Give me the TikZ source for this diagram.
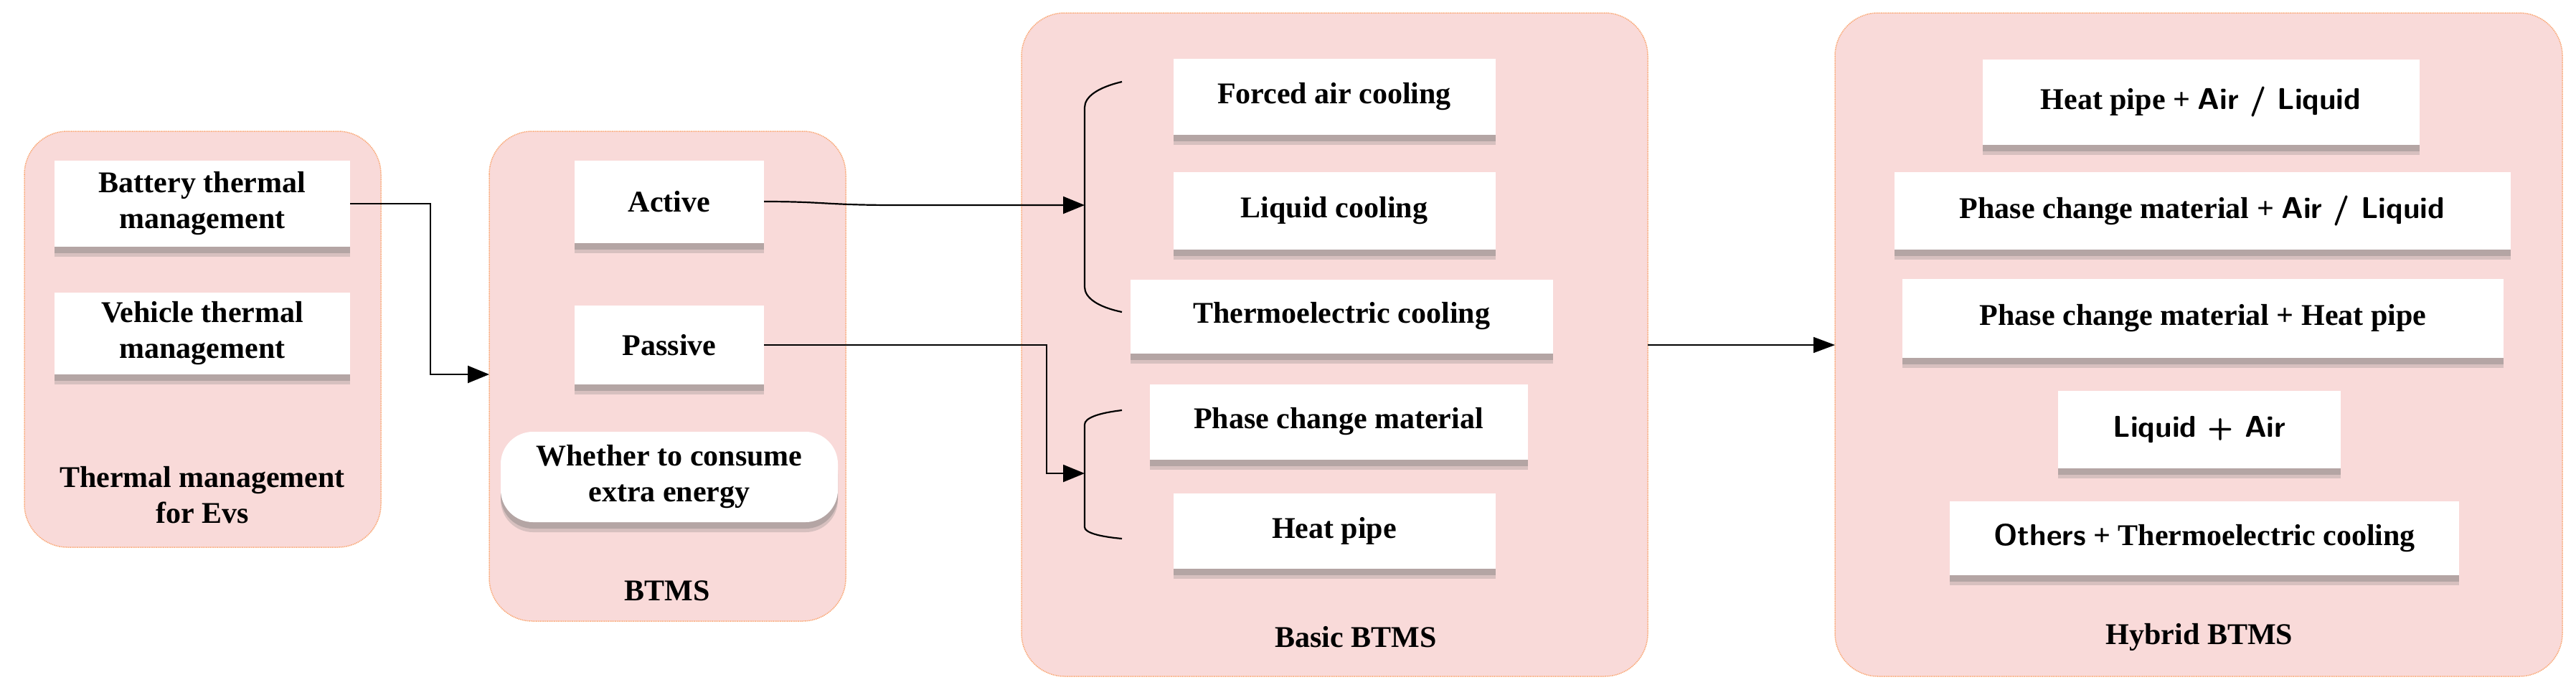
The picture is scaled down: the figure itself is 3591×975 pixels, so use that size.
\documentclass[tikz,border=0pt]{standalone}
\usepackage{fontspec}
\setmainfont{Liberation Serif}
\usetikzlibrary{shadows,arrows.meta}
\definecolor{pinkbg}{RGB}{249,218,217}
\definecolor{edgeor}{RGB}{250,170,120}
\begin{document}
\begin{tikzpicture}[x=1pt,y=-1pt,
  panel/.style={fill=pinkbg,draw=edgeor,densely dotted,line width=1.5pt,rounded corners=60pt},
  box/.style={fill=white,draw=none,inner sep=4pt,align=center,font=\fontsize{42}{50}\selectfont\bfseries,
    general shadow={shadow xshift=0pt,shadow yshift=-14pt,fill=black!55,opacity=0.25},
    general shadow={shadow xshift=0pt,shadow yshift=-9pt,fill=black!55,opacity=0.35}},
  lbl/.style={align=center,font=\fontsize{42}{50}\selectfont\bfseries},
  conn/.style={line width=2.2pt,-{Triangle[length=30pt,width=24pt]}},
  brace/.style={line width=2.2pt}]
\useasboundingbox (0,0) rectangle (3591,975);
% panels
\path[panel] (34,183) rectangle (531,763);
\path[panel] (682,183) rectangle (1179,866);
\path[panel] (1424,18) rectangle (2297,943);
\path[panel] (2558,18) rectangle (3572,943);
% panel 1
\node[box,minimum width=412pt,minimum height=120pt] (bat) at (282,284) {Battery thermal\\management};
\node[box,minimum width=412pt,minimum height=114pt] (veh) at (282,465) {Vehicle thermal\\management};
\node[lbl] (l1) at (282,690) {Thermal management\\for Evs};
% panel 2
\node[box,minimum width=264pt,minimum height=115pt] (act) at (933,281) {Active};
\node[box,minimum width=264pt,minimum height=110pt] (pas) at (933,481) {Passive};
\node[box,minimum width=470pt,minimum height=126pt,rounded corners=45pt] (wh) at (933,665) {Whether to consume\\extra energy};
\node[lbl] (l2) at (930,824) {BTMS};
% panel 3
\node[box,minimum width=449pt,minimum height=106pt] (fa) at (1860,135) {Forced air cooling};
\node[box,minimum width=449pt,minimum height=108pt] (lc) at (1860,294) {Liquid cooling};
\node[box,minimum width=589pt,minimum height=103pt] (tc) at (1870,441) {Thermoelectric cooling};
\node[box,minimum width=527pt,minimum height=105pt] (pcm) at (1866,588) {Phase change material};
\node[box,minimum width=449pt,minimum height=105pt] (hp) at (1860,740) {Heat pipe};
\node[lbl] (l3) at (1890,888) {Basic BTMS};
% panel 4
\node[box,minimum width=609pt,minimum height=119pt] (h1) at (3068,142) {Heat pipe + {\sffamily Air / Liquid}};
\node[box,minimum width=859pt,minimum height=108pt] (h2) at (3070,294) {Phase change material + {\sffamily Air / Liquid}};
\node[box,minimum width=838pt,minimum height=110pt] (h3) at (3071,444) {Phase change material + Heat pipe};
\node[box,minimum width=394pt,minimum height=108pt] (h4) at (3066,599) {{\sffamily Liquid + Air}};
\node[box,minimum width=710pt,minimum height=103pt] (h5) at (3073,750) {{\sffamily Others} + Thermoelectric cooling};
\node[lbl] (l4) at (3066,888) {Hybrid BTMS};
% braces
\coordinate (b1) at (1512,286);
\coordinate (b2) at (1512,660);
\draw[brace] (1564,114) .. controls (1530,122) and (1512,135) .. (1512,150) -- (1512,400) .. controls (1512,415) and (1530,428) .. (1564,435);
\draw[brace] (1564,572) .. controls (1530,576) and (1512,583) .. (1512,592) -- (1512,735) .. controls (1512,742) and (1530,748) .. (1564,751);
% connectors
\draw[conn] (act.east) .. controls (1150,281) and (1150,286) .. (1250,286) -- (b1);
\draw[conn] (bat.east) -| (600,522) -- (682,522);
\draw[conn] (pas.east) -| (1459,660) -- (b2);
\coordinate (p3) at (2297,481);
\coordinate (p4) at (2558,481);
\draw[line width=1.6pt,-{Triangle[length=30pt,width=22pt]}] (p3) -- (p4);
\end{tikzpicture}
\end{document}
